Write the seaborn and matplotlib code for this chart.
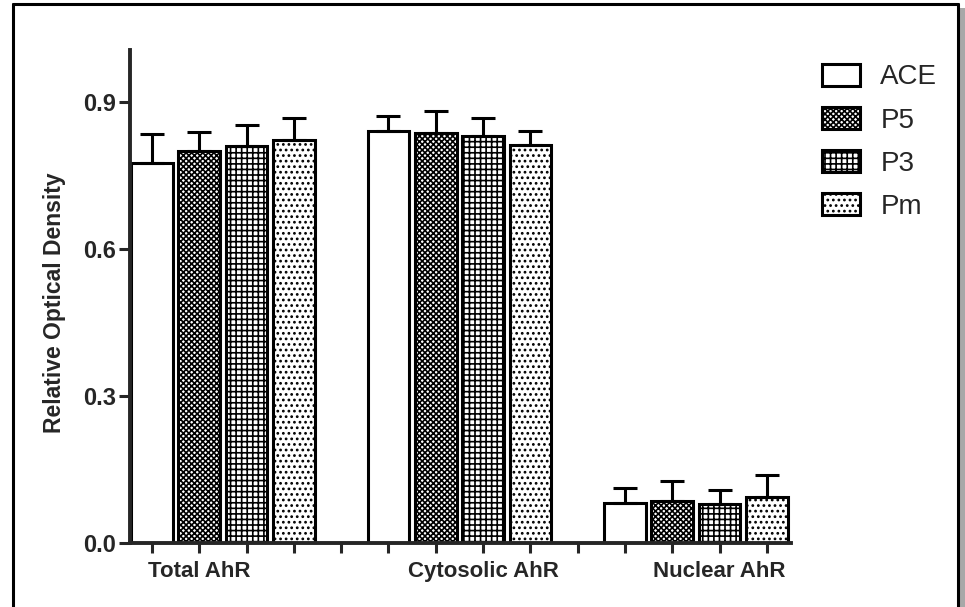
import numpy as np
import pandas as pd
import matplotlib
matplotlib.use('Agg')
import matplotlib.pyplot as plt
from matplotlib.lines import Line2D
from matplotlib.patches import Rectangle
import seaborn as sns

# Daten
regions = ['Total AhR', 'Cytosolic AhR', 'Nuclear AhR']
groups = ['ACE', 'P5', 'P3', 'Pm']
ace = [0.775, 0.840, 0.082]
p5 = [0.800, 0.836, 0.086]
p3 = [0.811, 0.830, 0.080]
pm = [0.822, 0.812, 0.093]
ace_err = [0.060, 0.032, 0.030]
p5_err = [0.038, 0.046, 0.041]
p3_err = [0.042, 0.038, 0.028]
pm_err = [0.045, 0.029, 0.046]
y_ticks = [0.0, 0.3, 0.6, 0.9]

values = {'ACE': ace, 'P5': p5, 'P3': p3, 'Pm': pm}
errors = {'ACE': ace_err, 'P5': p5_err, 'P3': p3_err, 'Pm': pm_err}
hatches = {'ACE': '', 'P5': 'xxxxxx', 'P3': '+++', 'Pm': '...'}

rows = []
for g in groups:
    for r, v in zip(regions, values[g]):
        rows.append({'Region': r, 'Group': g, 'Value': v})
df = pd.DataFrame(rows)

sns.set_style('ticks')
plt.rcParams['font.family'] = ['Liberation Sans', 'DejaVu Sans']
plt.rcParams['hatch.linewidth'] = 1.2
plt.rcParams['hatch.color'] = 'black'

fig = plt.figure(figsize=(9.65, 6.07), dpi=100)
ax = fig.add_axes([130 / 965, 1 - 543 / 607, 661 / 965, 493 / 607])

sns.barplot(data=df, x='Region', y='Value', hue='Group', order=regions,
            hue_order=groups, palette=['white'] * 4, edgecolor='black',
            linewidth=2.2, errorbar=None, width=0.8, gap=0.12,
            legend=False, ax=ax)

bar_containers = list(ax.containers)
for g, cont in zip(groups, bar_containers):
    for patch in cont.patches:
        patch.set_hatch(hatches[g])
        patch.set_edgecolor('black')
    xs = [p.get_x() + p.get_width() / 2 for p in cont.patches]
    ys = [p.get_height() for p in cont.patches]
    ax.errorbar(xs, ys, yerr=[np.zeros(len(ys)), errors[g]], fmt='none',
                ecolor='black', elinewidth=2.2, capsize=8.3, capthick=2.2,
                zorder=1)

# Achsen
ax.set_ylim(0, 1.006)
ax.set_xlim(-0.393, 2.402)
ax.set_yticks(y_ticks)
ax.set_yticklabels([f'{t:.1f}' for t in y_ticks], fontsize=17, fontweight='bold')
slot_ticks = [i + o for i in range(len(regions)) for o in (-0.3, -0.1, 0.1, 0.3, 0.5)][:-1]
ax.set_xticks(slot_ticks)
ax.set_xticklabels([''] * len(slot_ticks))
ax.tick_params(axis='x', length=7.5, width=2.2, direction='out')
ax.tick_params(axis='y', length=8, width=2.2, pad=2)

# Gruppenbeschriftungen unter der Achse
label_pos = [-0.1, 1.1, 2.1]
for x, lab in zip(label_pos, regions):
    ax.annotate(lab, xy=(x, 0), xycoords=('data', 'axes fraction'),
                xytext=(0, -13), textcoords='offset points', ha='center',
                va='top', fontsize=16, fontweight='bold')

ax.set_xlabel('')
ax.set_ylabel('Relative Optical Density', fontsize=16.5, fontweight='bold')
ax.yaxis.set_label_coords(-0.097, 0.488)
sns.despine(ax=ax)
for s in ['left', 'bottom']:
    ax.spines[s].set_linewidth(2.8)

leg = ax.legend(handles=bar_containers, labels=groups, loc='upper left',
                bbox_to_anchor=(822 / 965, 1 - 64 / 607),
                bbox_transform=fig.transFigure, frameon=False, fontsize=20,
                handlelength=1.35, handleheight=0.82, handletextpad=0.75,
                labelspacing=0.6, borderpad=0, borderaxespad=0)

# Rahmen um die Abbildung
lw = 2.2
fig.add_artist(Line2D([13 / 965, 13 / 965], [0, 1 - 4 / 607], color='black', lw=lw))
fig.add_artist(Line2D([13 / 965, 958 / 965], [1 - 4 / 607, 1 - 4 / 607], color='black', lw=lw))
fig.add_artist(Line2D([958 / 965, 958 / 965], [0, 1 - 4 / 607], color='black', lw=lw))
fig.add_artist(Rectangle((959.5 / 965, 0), 5.5 / 965, 1 - 8 / 607, transform=fig.transFigure,
                         facecolor='#a8a8a8', edgecolor='none'))

fig.savefig('out.png', dpi=100)
